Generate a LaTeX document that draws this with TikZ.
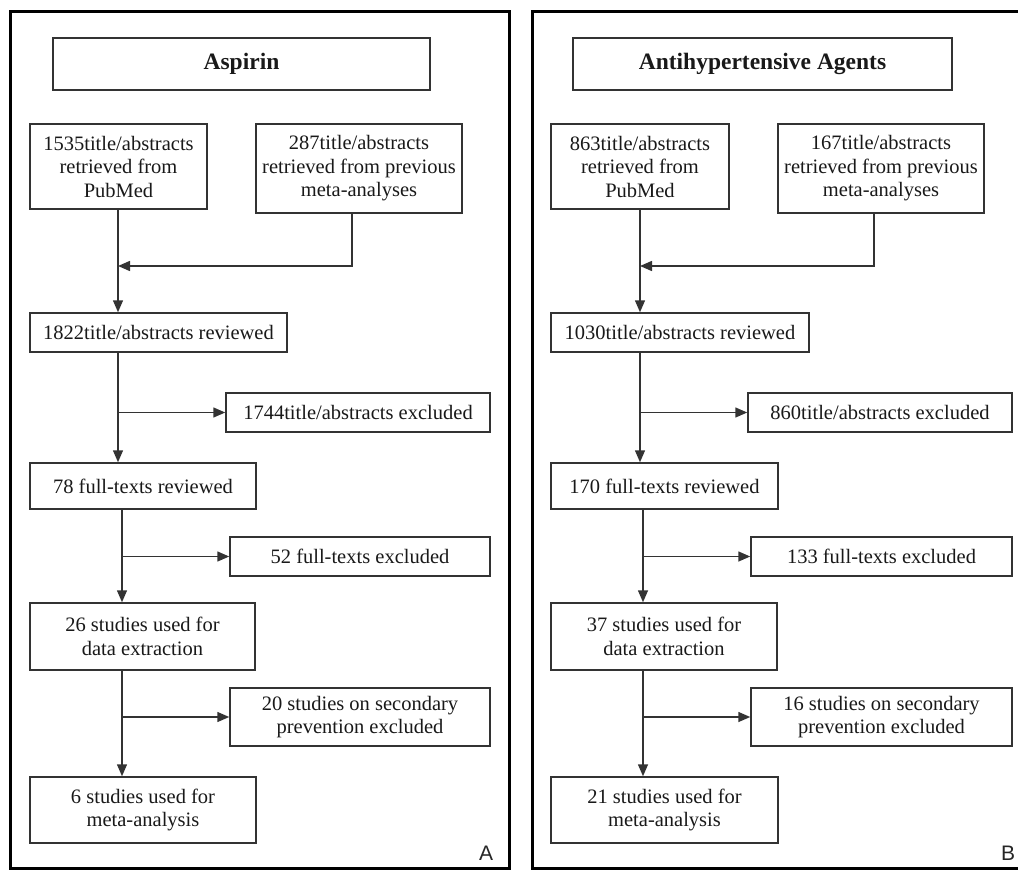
\documentclass[tikz,border=0pt]{standalone}
\usepackage{fontspec}
\setmainfont{Liberation Serif}
\newfontfamily\panelfont{Liberation Sans}
\usetikzlibrary{arrows.meta}

\begin{document}
\begin{tikzpicture}[x=1pt,y=-1pt,
  box/.style={draw=black!80, line width=1.5pt, align=center, inner sep=0pt,
    font=\fontsize{20.5}{23.5}\selectfont, text=black!90},
  head/.style={box, font=\fontsize{23.5}{27}\selectfont\bfseries},
  link/.style={draw=black!80, line width=1.5pt, -{Triangle[length=12pt,width=10pt]}},
  frame/.style={draw=black, line width=3pt},
  tag/.style={font=\panelfont\fontsize{21}{21}\selectfont, text=black!85}]

\useasboundingbox (0,0) rectangle (1018,870);

%panel A
\draw[frame] (10,11) rectangle (509,868);
\node[head, minimum width=377, minimum height=52] (aT) at (241.5,64) {Aspirin};
\node[box, minimum width=177, minimum height=85] (aPub) at (118.5,166.5) {1535title/abstracts\\retrieved from\\PubMed};
\node[box, minimum width=206, minimum height=89] (aPrev) at (359,168.5) {287title/abstracts\\retrieved from previous\\meta-analyses};
\node[box, minimum width=257, minimum height=39] (a2) at (158.5,332.5) {1822title/abstracts reviewed};
\node[box, minimum width=264, minimum height=39] (a2x) at (358,412.5) {1744title/abstracts excluded};
\node[box, minimum width=226, minimum height=46] (a3) at (143,486) {78 full-texts reviewed};
\node[box, minimum width=260, minimum height=39] (a3x) at (360,556.5) {52 full-texts excluded};
\node[box, minimum width=225, minimum height=67] (a4) at (142.5,636.5) {26 studies used for\\data extraction};
\node[box, minimum width=260, minimum height=58] (a4x) at (360,717) {20 studies on secondary\\prevention excluded};
\node[box, minimum width=226, minimum height=66] (a5) at (143,810) {6 studies used for\\meta-analysis};
\node[tag] (aTag) at (486,853) {A};

\coordinate (aTop) at (118,266);
\coordinate (aLow) at (122,556.5);

\draw[link] (aPub.south -| aTop) -- (a2.north -| aTop);
\draw[link] ([xshift=-7]aPrev.south) |- (aTop);
\draw[link] (a2.south -| aTop) -- (a3.north -| aTop);
\draw[link] (aTop |- a2x.west) -- (a2x.west);
\draw[link] (a3.south -| aLow) -- (a4.north -| aLow);
\draw[link] (aLow |- a3x.west) -- (a3x.west);
\draw[link] (a4.south -| aLow) -- (a5.north -| aLow);
\draw[link] (aLow |- a4x.west) -- (a4x.west);

%panel B
\draw[frame] (1018,11) -- (532,11) -- (532,868) -- (1018,868);
\node[head, minimum width=379, minimum height=52] (bT) at (762.5,64) {Antihypertensive Agents};
\node[box, minimum width=178, minimum height=85] (bPub) at (640,166.5) {863title/abstracts\\retrieved from\\PubMed};
\node[box, minimum width=206, minimum height=89] (bPrev) at (881,168.5) {167title/abstracts\\retrieved from previous\\meta-analyses};
\node[box, minimum width=258, minimum height=39] (b2) at (680,332.5) {1030title/abstracts reviewed};
\node[box, minimum width=264, minimum height=39] (b2x) at (880,412.5) {860title/abstracts excluded};
\node[box, minimum width=227, minimum height=46] (b3) at (664.5,486) {170 full-texts reviewed};
\node[box, minimum width=261, minimum height=39] (b3x) at (881.5,556.5) {133 full-texts excluded};
\node[box, minimum width=226, minimum height=67] (b4) at (664,636.5) {37 studies used for\\data extraction};
\node[box, minimum width=261, minimum height=58] (b4x) at (881.5,717) {16 studies on secondary\\prevention excluded};
\node[box, minimum width=227, minimum height=66] (b5) at (664.5,810) {21 studies used for\\meta-analysis};
\node[tag] (bTag) at (1008,853) {B};

\coordinate (bTop) at (640,266);
\coordinate (bLow) at (643,556.5);

\draw[link] (bPub.south -| bTop) -- (b2.north -| bTop);
\draw[link] ([xshift=-7]bPrev.south) |- (bTop);
\draw[link] (b2.south -| bTop) -- (b3.north -| bTop);
\draw[link] (bTop |- b2x.west) -- (b2x.west);
\draw[link] (b3.south -| bLow) -- (b4.north -| bLow);
\draw[link] (bLow |- b3x.west) -- (b3x.west);
\draw[link] (b4.south -| bLow) -- (b5.north -| bLow);
\draw[link] (bLow |- b4x.west) -- (b4x.west);

\end{tikzpicture}
\end{document}
